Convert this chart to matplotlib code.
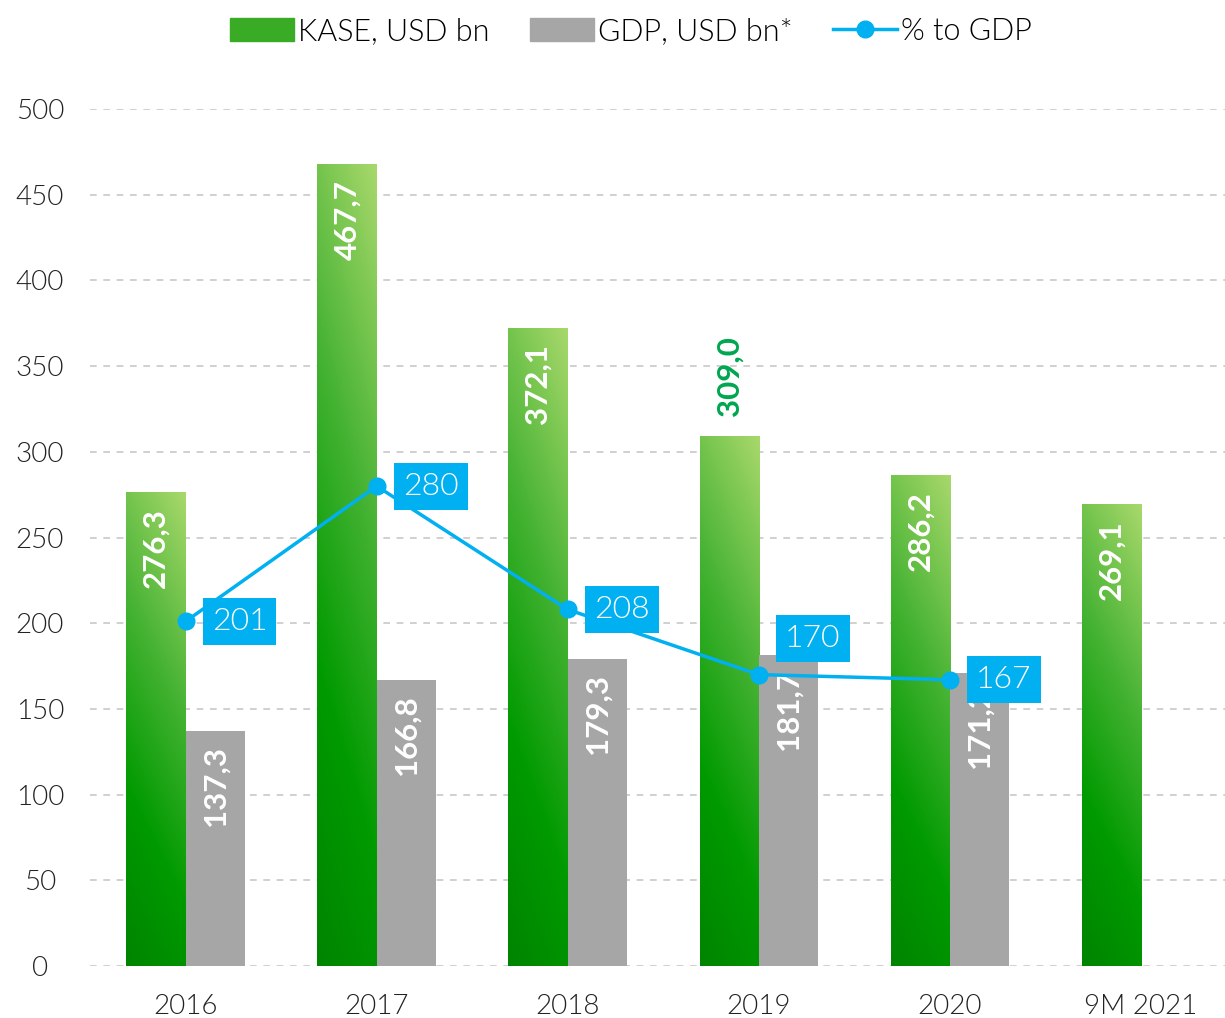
import matplotlib.pyplot as plt
from matplotlib.colors import LinearSegmentedColormap
from matplotlib.patches import Patch
from matplotlib.lines import Line2D
import numpy as np

plt.rcParams['font.family'] = ['Lato', 'DejaVu Sans']

years = ['2016', '2017', '2018', '2019', '2020', '9M 2021']
kase = [276.3, 467.7, 372.1, 309.0, 286.2, 269.1]
gdp = [137.3, 166.8, 179.3, 181.7, 171.2, None]
pct = [201, 280, 208, 170, 167]

GRAY = '#a6a6a6'
BLUE = '#00b0f0'
LABEL_GREEN = '#00a650'
THIN = 300

green_cmap = LinearSegmentedColormap.from_list(
	'kase', [(0, '#008400'), (0.3, '#009a00'), (0.62, '#44b232'), (1, '#a8d86c')])

fig = plt.figure(figsize=(12.25, 10.18), dpi=100)
ax = fig.add_axes([90 / 1225, 52 / 1018, 1135 / 1225, 857 / 1018])

w = 0.31
x = np.arange(len(years))

# gradient bars for KASE, drawn as images over each bar's rectangle
u, v = np.meshgrid(np.linspace(0, 1, 50), np.linspace(0, 1, 200))
grad = 0.8 * v + 0.2 * u
for i, val in enumerate(kase):
	ax.imshow(grad, cmap=green_cmap, origin='lower', aspect='auto',
			  extent=(x[i] - w, x[i], 0, val), zorder=2, interpolation='bilinear')

for i, val in enumerate(gdp):
	if val is not None:
		ax.bar(x[i], val, width=w, align='edge', color=GRAY, zorder=2)

# bar value labels
for i, val in enumerate(kase):
	txt = f'{val:.1f}'.replace('.', ',')
	if years[i] == '2019':
		ax.text(x[i] - w / 2, val + 12, txt, rotation=90, ha='center', va='bottom',
				color=LABEL_GREEN, fontsize=22.5, fontweight='bold', zorder=5)
	else:
		ax.text(x[i] - w / 2, val - 9, txt, rotation=90, ha='center', va='top',
				color='white', fontsize=22.5, fontweight='bold', zorder=5)
for i, val in enumerate(gdp):
	if val is not None:
		txt = f'{val:.1f}'.replace('.', ',')
		ax.text(x[i] + w / 2, val - 9, txt, rotation=90, ha='center', va='top',
				color='white', fontsize=22.5, fontweight='bold', zorder=5)

# % to GDP line
xp = x[:len(pct)]
ax.plot(xp, pct, color=BLUE, lw=2.5, marker='o', ms=12, zorder=6)
for i, val in enumerate(pct):
	dy = 26 if years[i] == '2019' else 0
	ax.annotate(str(val), (xp[i], val), xytext=(19, dy), textcoords='offset points',
				ha='left', va='center', color='white', fontsize=23, fontweight=THIN,
				zorder=7, bbox=dict(boxstyle='square,pad=0.28', fc=BLUE, ec='none'))

ax.set_xlim(-0.5, 5.44)
ax.set_ylim(0, 500)
ax.set_yticks(range(0, 501, 50))
ax.set_xticks(x)
ax.set_xticklabels(years)
ax.tick_params(length=0, labelsize=20, colors='#222222', pad=20)
ax.tick_params(axis='y', pad=36)
for tl in ax.get_yticklabels() + ax.get_xticklabels():
	tl.set_fontweight(THIN)
for ytl in ax.get_yticklabels():
	ytl.set_horizontalalignment('center')
ax.grid(axis='y', color='#c8c8c8', ls=(0, (4, 4)), lw=1.2, zorder=0)
ax.set_axisbelow(True)
for s in ax.spines.values():
	s.set_visible(False)

handles = [Patch(color='#3aab25'), Patch(color=GRAY),
		   Line2D([], [], color=BLUE, lw=2.5, marker='o', ms=12)]
fig.legend(handles, ['KASE, USD bn', 'GDP, USD bn*', '% to GDP'], loc='upper center',
		   bbox_to_anchor=(0.515, 1.01), ncol=3, frameon=False,
		   prop={'size': 22, 'weight': THIN},
		   handlelength=2.1, handleheight=0.8, handletextpad=0.15, columnspacing=1.3)

fig.savefig('out.png', dpi=100)
